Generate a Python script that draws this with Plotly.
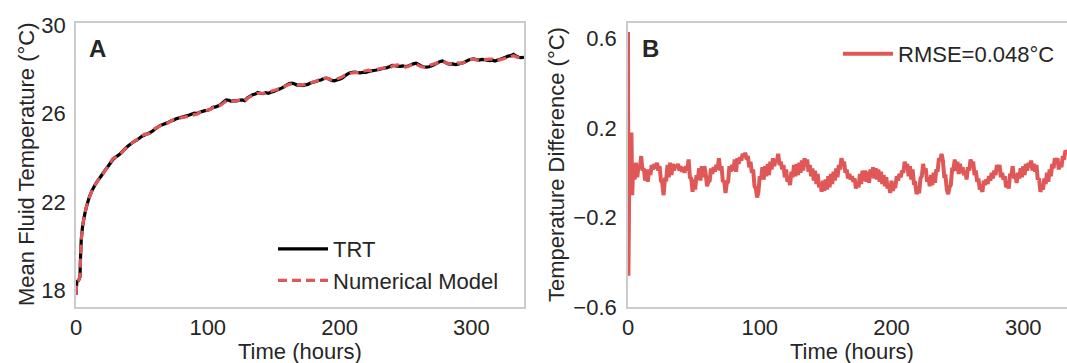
import plotly.graph_objects as go

# ---------------- Data ----------------
trt_time = [0, 0.5, 1, 2, 3, 3.5, 4, 5, 6, 7, 8,
            10, 12, 14, 16, 18, 20, 22, 24, 26, 28, 30, 32, 34, 36, 38, 40,
            42, 44, 46, 48, 50, 52, 54, 56, 58, 60, 62, 64, 66, 68, 70,
            72, 74, 76, 78, 80, 82, 84, 86, 88, 90, 92, 94, 96, 98, 100,
            102, 104, 106, 108, 110, 112, 114, 116, 118, 120, 122, 124, 126, 128, 130,
            132, 134, 136, 138, 140, 142, 144, 146, 148, 150, 152, 154, 156, 158, 160,
            162, 164, 166, 168, 170, 172, 174, 176, 178, 180, 182, 184, 186, 188, 190,
            192, 194, 196, 198, 200, 202, 204, 206, 208, 210, 212, 214, 216, 218, 220,
            222, 224, 226, 228, 230, 232, 234, 236, 238, 240, 242, 244, 246, 248, 250,
            252, 254, 256, 258, 260, 262, 264, 266, 268, 270, 272, 274, 276, 278, 280,
            282, 284, 286, 288, 290, 292, 294, 296, 298, 300, 302, 304, 306, 308, 310,
            312, 314, 316, 318, 320, 322, 324, 326, 328, 330, 332, 334, 336, 338, 340]

trt_temp = [17.80, 18.30, 18.40, 18.45, 18.60, 19.60, 20.30, 20.90, 21.25, 21.55, 21.80,
            22.20, 22.50, 22.72, 22.92, 23.08, 23.25, 23.42, 23.58, 23.75, 23.92, 24.03, 24.10, 24.20, 24.33, 24.45, 24.55,
            24.64, 24.73, 24.80, 24.88, 24.97, 25.03, 25.08, 25.13, 25.20, 25.30, 25.38, 25.46, 25.50, 25.55, 25.60,
            25.66, 25.70, 25.76, 25.80, 25.83, 25.86, 25.90, 25.93, 25.98, 26.02, 26.00, 26.06, 26.10, 26.13, 26.15,
            26.20, 26.28, 26.30, 26.35, 26.42, 26.52, 26.62, 26.60, 26.55, 26.58, 26.57, 26.60, 26.62, 26.58, 26.70,
            26.78, 26.85, 26.88, 26.95, 26.92, 26.90, 26.95, 26.92, 26.96, 27.00, 27.05, 27.10, 27.15, 27.22, 27.30,
            27.36, 27.38, 27.34, 27.28, 27.30, 27.27, 27.30, 27.32, 27.38, 27.42, 27.45, 27.50, 27.52, 27.58, 27.60,
            27.56, 27.50, 27.48, 27.52, 27.55, 27.60, 27.70, 27.78, 27.85, 27.87, 27.88, 27.85, 27.84, 27.87, 27.86,
            27.90, 27.93, 27.95, 27.97, 28.00, 28.03, 28.06, 28.08, 28.12, 28.18, 28.17, 28.15, 28.14, 28.16, 28.13,
            28.15, 28.20, 28.25, 28.28, 28.22, 28.15, 28.12, 28.10, 28.12, 28.16, 28.22, 28.28, 28.35, 28.38, 28.33,
            28.26, 28.24, 28.25, 28.22, 28.24, 28.28, 28.30, 28.36, 28.42, 28.46, 28.48, 28.44, 28.42, 28.45, 28.44,
            28.42, 28.40, 28.42, 28.38, 28.42, 28.46, 28.50, 28.55, 28.60, 28.62, 28.68, 28.60, 28.55, 28.53, 28.55]

model_temp = [17.80, 18.28, 18.42, 18.46, 18.62, 19.58, 20.28, 20.91, 21.24, 21.56, 21.79,
              22.19, 22.49, 22.73, 22.91, 23.07, 23.24, 23.41, 23.57, 23.77, 23.96, 24.02, 24.09, 24.19, 24.32, 24.44, 24.54,
              24.63, 24.72, 24.81, 24.89, 24.99, 25.07, 25.06, 25.11, 25.21, 25.33, 25.37, 25.45, 25.49, 25.54, 25.58,
              25.66, 25.73, 25.75, 25.78, 25.81, 25.84, 25.86, 25.89, 25.92, 25.95, 25.98, 26.05, 26.09, 26.15, 26.15,
              26.19, 26.27, 26.29, 26.33, 26.39, 26.48, 26.56, 26.57, 26.54, 26.58, 26.59, 26.61, 26.61, 26.57, 26.68,
              26.76, 26.82, 26.85, 26.92, 26.92, 26.91, 26.96, 26.97, 27.01, 27.04, 27.08, 27.12, 27.16, 27.22, 27.28,
              27.32, 27.34, 27.34, 27.29, 27.31, 27.29, 27.34, 27.36, 27.39, 27.43, 27.46, 27.50, 27.51, 27.58, 27.60,
              27.57, 27.53, 27.52, 27.57, 27.61, 27.66, 27.74, 27.79, 27.83, 27.84, 27.86, 27.85, 27.86, 27.91, 27.94,
              27.96, 27.92, 27.94, 27.98, 28.02, 28.05, 28.06, 28.06, 28.06, 28.15, 28.18, 28.20, 28.17, 28.14, 28.10,
              28.13, 28.19, 28.25, 28.25, 28.18, 28.12, 28.11, 28.12, 28.16, 28.22, 28.25, 28.29, 28.32, 28.35, 28.32,
              28.27, 28.25, 28.28, 28.27, 28.29, 28.27, 28.30, 28.36, 28.42, 28.45, 28.46, 28.43, 28.41, 28.44, 28.44,
              28.45, 28.46, 28.46, 28.40, 28.42, 28.44, 28.47, 28.51, 28.56, 28.58, 28.62, 28.57, 28.53, 28.51, 28.45]

diff_time = [0, 0.3, 1, 2, 2.6, 3.2] + list(range(4, 334))

diff_val = [0.63, -0.46, 0.00, -0.02, 0.18, -0.10,
            0.04, -0.03, 0.045, -0.02, 0.03,
            0.02, 0.075, 0.01, 0.02, -0.035, 0.015, -0.04, 0.015, -0.01, 0.035,
            0.015, 0.04, 0.02, 0.045, 0.01, 0.03, -0.035, -0.045, -0.10, -0.03,
            -0.03, 0.035, -0.02, 0.045, -0.01, 0.04, 0.01, 0.035, 0.025, 0.04,
            0.01, 0.03, 0.005, 0.025, 0.00, 0.03, 0.01, 0.06, -0.02, -0.025,
            -0.085, -0.03, -0.075, -0.01, -0.03, 0.02, -0.035, 0.03, -0.02, 0.03,
            -0.005, -0.06, -0.04, -0.035, 0.02, -0.005, 0.025, 0.005, 0.035, 0.015,
            0.065, 0.01, 0.03, -0.04, -0.035, -0.09, -0.045, -0.04, 0.03, 0.005,
            0.035, 0.01, 0.06, 0.005, 0.065, 0.04, 0.07, 0.055, 0.085, 0.07,
            0.09, 0.06, 0.075, 0.025, 0.05, 0.00, 0.015, -0.06, -0.07, -0.11,
            -0.085, -0.015, -0.03, 0.025, -0.03, 0.03, -0.015, 0.04, -0.01, 0.05,
            0.015, 0.065, 0.03, 0.06, 0.05, 0.085, 0.035, 0.05, 0.015, 0.035,
            -0.02, 0.015, -0.04, -0.02, -0.055, 0.005, -0.02, 0.035, -0.015, 0.04,
            -0.01, 0.045, 0.00, 0.055, 0.01, 0.065, 0.03, 0.06, 0.005, 0.035,
            -0.015, 0.02, -0.035, 0.01, -0.05, -0.005, -0.065, -0.045, -0.085, -0.035,
            -0.08, -0.03, -0.075, -0.015, -0.065, -0.005, -0.05, 0.005, -0.035, 0.02,
            -0.02, 0.035, 0.015, 0.065, 0.04, 0.05, 0.00, 0.015, -0.025, -0.005,
            -0.03, -0.015, -0.04, -0.025, -0.07, -0.05, -0.065, -0.005, -0.05, 0.01,
            -0.035, 0.01, -0.04, 0.005, -0.045, 0.015, -0.02, 0.025, -0.025, 0.02,
            -0.03, 0.015, -0.04, 0.005, -0.05, -0.01, -0.06, -0.02, -0.07, -0.05,
            -0.09, -0.035, -0.08, -0.06, -0.06, -0.015, -0.035, -0.005, -0.02, 0.01,
            0.00, 0.05, 0.025, 0.04, -0.015, 0.03, -0.03, 0.015, -0.045, -0.045,
            -0.095, -0.08, -0.09, -0.025, -0.015, 0.04, 0.00, 0.02, -0.04, -0.02,
            -0.06, -0.01, -0.055, 0.00, -0.045, 0.015, 0.005, 0.065, 0.055, 0.085,
            0.055, -0.015, -0.015, -0.075, -0.095, -0.065, -0.055, 0.015, 0.015, 0.06,
            0.01, 0.05, -0.005, 0.04, 0.00, 0.025, -0.01, 0.01, -0.03, 0.025,
            0.01, 0.06, 0.035, 0.05, -0.01, 0.01, -0.04, -0.025, -0.075, -0.065,
            -0.085, -0.035, -0.055, -0.03, -0.05, -0.015, -0.035, 0.00, -0.025, 0.01,
            -0.01, 0.035, 0.015, 0.035, -0.02, 0.00, -0.03, -0.015, -0.065, -0.05,
            -0.07, -0.005, -0.01, 0.03, -0.025, -0.005, -0.045, 0.00, -0.025, 0.02,
            -0.02, 0.03, -0.01, 0.04, 0.01, 0.045, 0.025, 0.055, 0.01, 0.04,
            0.005, 0.035, -0.03, -0.025, -0.085, -0.065, -0.075, -0.025, -0.05, 0.00,
            -0.04, 0.015, -0.015, 0.04, 0.02, 0.065, 0.045, 0.065, 0.015, 0.045,
            0.025, 0.075, 0.06, 0.10, 0.09]

x_ticks = [0, 100, 200, 300]
a_y_ticks = [18, 22, 26, 30]
b_y_ticks = [-0.6, -0.2, 0.2, 0.6]

# ---------------- Style ----------------
W, H = 1067, 363
FONT = "Liberation Sans, Arial, sans-serif"
TXT = "#262626"
FRAME = "#cccccc"
RED = "#e05757"
FS = 22

fig = go.Figure()

fig.add_trace(go.Scatter(x=trt_time, y=trt_temp, mode="lines", name="TRT",
                         line=dict(color="black", width=3.2, simplify=False),
                         xaxis="x", yaxis="y", legend="legend"))
fig.add_trace(go.Scatter(x=trt_time, y=model_temp, mode="lines", name="Numerical Model",
                         line=dict(color=RED, width=3.2, dash="9px,5px", simplify=False),
                         xaxis="x", yaxis="y", legend="legend"))
fig.add_trace(go.Scatter(x=diff_time, y=diff_val, mode="lines", name="RMSE=0.048°C",
                         line=dict(color=RED, width=4, simplify=False),
                         xaxis="x2", yaxis="y2", legend="legend2"))

ydom = [1 - 307 / H, 1 - 23 / H]
tickfont = dict(family=FONT, size=FS, color=TXT)
common = dict(showgrid=False, zeroline=False, showline=True,
              linecolor=FRAME, linewidth=1.6, ticks="outside",
              tickcolor="rgba(0,0,0,0)", tickfont=tickfont, automargin=False)

fig.update_layout(
    width=W, height=H,
    margin=dict(l=0, r=0, t=0, b=0, autoexpand=False),
    paper_bgcolor="white", plot_bgcolor="white",
    font=dict(family=FONT, size=FS, color=TXT),
    xaxis=dict(domain=[76 / W, 524 / W], range=[0, 340], tickvals=x_ticks,
               mirror=True, ticklen=0, **common),
    yaxis=dict(domain=ydom, range=[17.24, 30.1], tickvals=a_y_ticks,
               mirror=True, ticklen=4, **common),
    xaxis2=dict(domain=[628 / W, 1.0], range=[0, 333.2], tickvals=x_ticks,
                anchor="y2", mirror=True, ticklen=0, **common),
    yaxis2=dict(domain=ydom, range=[-0.6, 0.67], tickvals=b_y_ticks,
                anchor="x2", mirror=False, ticklen=5, **common),
    legend=dict(x=273 / W, y=1 - 228 / H, xanchor="left", yanchor="top",
                bgcolor="rgba(0,0,0,0)", font=dict(family=FONT, size=FS, color=TXT),
                itemwidth=50, tracegroupgap=0),
    legend2=dict(x=838 / W, y=1 - 33 / H, xanchor="left", yanchor="top",
                 bgcolor="rgba(0,0,0,0)", font=dict(family=FONT, size=FS, color=TXT),
                 itemwidth=50),
    showlegend=True,
)

annotations = [
    dict(text="<b>A</b>", x=87 / W, y=1 - 48 / H, xref="paper", yref="paper",
         xanchor="left", yanchor="middle", showarrow=False,
         font=dict(family=FONT, size=24, color=TXT)),
    dict(text="<b>B</b>", x=640 / W, y=1 - 48 / H, xref="paper", yref="paper",
         xanchor="left", yanchor="middle", showarrow=False,
         font=dict(family=FONT, size=24, color=TXT)),
    dict(text="Time (hours)", x=300 / W, y=1 - 351 / H, xref="paper", yref="paper",
         xanchor="center", yanchor="middle", showarrow=False,
         font=dict(family=FONT, size=FS, color=TXT)),
    dict(text="Time (hours)", x=852 / W, y=1 - 351 / H, xref="paper", yref="paper",
         xanchor="center", yanchor="middle", showarrow=False,
         font=dict(family=FONT, size=FS, color=TXT)),
    dict(text="Mean Fluid Temperature (°C)", x=26 / W, y=1 - 164 / H, xref="paper", yref="paper",
         xanchor="center", yanchor="middle", showarrow=False, textangle=-90,
         font=dict(family=FONT, size=FS, color=TXT)),
    dict(text="Temperature Difference (°C)", x=556 / W, y=1 - 165 / H, xref="paper", yref="paper",
         xanchor="center", yanchor="middle", showarrow=False, textangle=-90,
         font=dict(family=FONT, size=FS, color=TXT)),
]
fig.update_layout(annotations=annotations)

fig.write_html("out.html")
